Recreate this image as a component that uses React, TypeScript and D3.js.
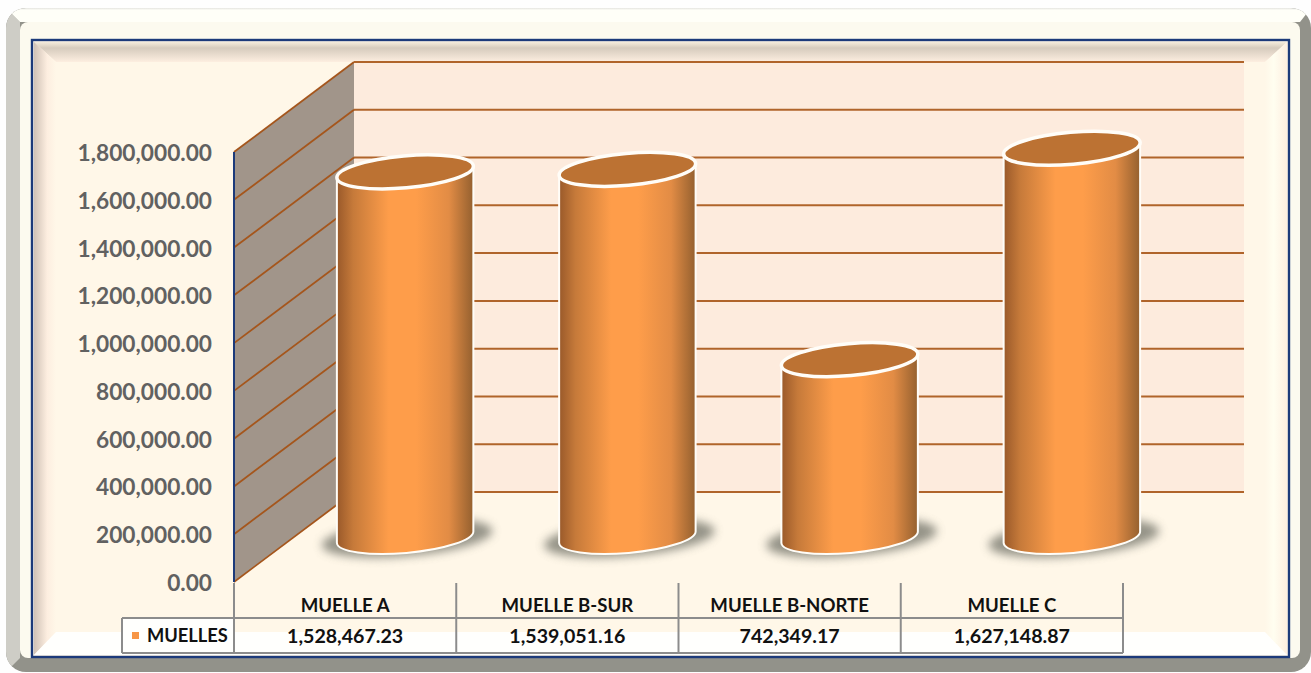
import React from "react";
import * as d3 from "d3";

const categories = ["MUELLE A", "MUELLE B-SUR", "MUELLE B-NORTE", "MUELLE C"];
const values = [1528467.23, 1539051.16, 742349.17, 1627148.87];
const tickValues = [0, 200000, 400000, 600000, 800000, 1000000, 1200000, 1400000, 1600000, 1800000];
const seriesName = "MUELLES";

const width = 1311;
const height = 673;
const plot = { left: 234, right: 1123, top: 152, bottom: 582 };
const depth = { x: 120, y: -90 };
const backRight = 1244;
const tilt = 5;
const rx = 68.5;
const ry = 16;
const font = "Lato, 'Noto Sans', sans-serif";

const fmt = d3.format(",.2f");

const App = () => {
  const y = d3.scaleLinear().domain([0, 1800000]).range([plot.bottom, plot.top]);
  const x = d3.scaleBand().domain(categories).range([plot.left, plot.right]);

  const dx = rx * Math.cos((tilt * Math.PI) / 180);
  const dy = rx * Math.sin((tilt * Math.PI) / 180);
  const tableLines = [plot.left, ...categories.map((c) => (x(c) as number) + x.bandwidth())];

  return (
    <svg
      width={width}
      height={height}
      style={{ position: "absolute", left: 0, top: 0, display: "block" }}
    >
      <defs>
        <linearGradient id="body" x1="0" x2="1" y1="0" y2="0">
          <stop offset="0" stopColor="#99592a" />
          <stop offset="0.12" stopColor="#c67a3a" />
          <stop offset="0.38" stopColor="#fe9d4a" />
          <stop offset="0.58" stopColor="#fe9d4a" />
          <stop offset="0.82" stopColor="#e28c45" />
          <stop offset="1" stopColor="#94602f" />
        </linearGradient>
        <linearGradient id="bevelLeft" x1="0" x2="1" y1="0" y2="0">
          <stop offset="0" stopColor="#d0c2b6" />
          <stop offset="0.6" stopColor="#fdeee0" />
          <stop offset="1" stopColor="#fff7e8" />
        </linearGradient>
        <linearGradient id="bevelTop" x1="0" x2="0" y1="0" y2="1">
          <stop offset="0" stopColor="#f5ecdc" />
          <stop offset="0.3" stopColor="#d6cbbd" />
          <stop offset="1" stopColor="#fdeee0" />
        </linearGradient>
        <linearGradient id="bevelRight" x1="0" x2="1" y1="0" y2="0">
          <stop offset="0" stopColor="#fff7e8" />
          <stop offset="0.4" stopColor="#fffef0" />
          <stop offset="1" stopColor="#fdeee0" />
        </linearGradient>
        <linearGradient id="frameTop" x1="0" x2="0" y1="0" y2="1">
          <stop offset="0" stopColor="#e4e4e0" />
          <stop offset="0.15" stopColor="#fffff8" />
          <stop offset="1" stopColor="#fffff8" />
        </linearGradient>
        <filter id="shadow" x="-30%" y="-60%" width="160%" height="220%">
          <feGaussianBlur stdDeviation="5" />
        </filter>
        <clipPath id="outerClip">
          <rect x={6} y={8} width={1305} height={664} rx={20} />
        </clipPath>
      </defs>

      {/* outer frame */}
      <rect x={0} y={0} width={width} height={height} fill="#fefefe" />
      <g clipPath="url(#outerClip)">
        <rect x={6} y={8} width={1305} height={664} fill="#92928a" />
        <polygon points="6,8 20,22 20,658 6,672" fill="#cecdc6" />
        <polygon points="6,8 1311,8 1300,22 20,22" fill="url(#frameTop)" />
      </g>
      <rect x={20} y={22} width={1280} height={636} rx={8} fill="#fcfaef" />

      {/* inner panel with bevel */}
      <rect x={32} y={40} width={1257} height={617} fill="#fff7e8" stroke="#1c3a7a" strokeWidth={2.4} />
      <polygon points="34,42 1287,42 1265,62 56,62" fill="url(#bevelTop)" />
      <polygon points="34,42 56,62 56,632 34,655" fill="url(#bevelLeft)" />
      <polygon points="1287,42 1265,62 1265,632 1287,655" fill="url(#bevelRight)" />
      <polygon points="34,655 56,632 1265,632 1287,655" fill="#fffffd" />

      {/* back wall */}
      <rect
        x={plot.left + depth.x}
        y={plot.top + depth.y}
        width={backRight - plot.left - depth.x}
        height={plot.bottom - plot.top}
        fill="#fdebdd"
      />
      {/* side wall */}
      <polygon
        points={[
          [plot.left, y(0)],
          [plot.left, y(1800000)],
          [plot.left + depth.x, y(1800000) + depth.y],
          [plot.left + depth.x, y(0) + depth.y],
        ].join(" ")}
        fill="#a1958a"
      />
      {tickValues.map((t) => (
        <g key={t}>
          <line
            x1={plot.left}
            x2={plot.left + depth.x}
            y1={y(t)}
            y2={y(t) + depth.y}
            stroke="#a5561c"
            strokeWidth={1.8}
          />
          <line
            x1={plot.left + depth.x}
            x2={backRight}
            y1={y(t) + depth.y}
            y2={y(t) + depth.y}
            stroke="#b0642a"
            strokeWidth={2}
          />
          <text
            x={212}
            y={y(t) + 9}
            textAnchor="end"
            fontFamily={font}
            fontWeight={700}
            fontSize={22.7}
            fill="#616161"
          >
            {fmt(t)}
          </text>
        </g>
      ))}
      <line x1={plot.left} x2={plot.left} y1={y(1800000)} y2={y(0)} stroke="#1c3a7a" strokeWidth={2} />

      {/* cylinders */}
      {categories.map((c, i) => {
        const cx = (x(c) as number) + x.bandwidth() / 2 + depth.x / 2;
        const yBase = y(0) + depth.y / 2;
        const yTop = y(values[i]) + depth.y / 2;
        const body = [
          `M${cx - dx},${yTop + dy}`,
          `L${cx - dx},${yBase + dy}`,
          `A${rx},${ry} ${-tilt} 0 0 ${cx + dx},${yBase - dy}`,
          `L${cx + dx},${yTop - dy}`,
          "Z",
        ].join(" ");
        return (
          <g key={c}>
            <ellipse
              cx={cx + 2}
              cy={yBase + 1}
              rx={rx + 17}
              ry={ry + 2}
              transform={`rotate(${-tilt} ${cx + 2} ${yBase + 1})`}
              fill="#7a7a70"
              opacity={0.8}
              filter="url(#shadow)"
            />
            <path d={body} fill="url(#body)" stroke="#fffdf8" strokeWidth={2} />
            <ellipse
              cx={cx}
              cy={yTop}
              rx={rx}
              ry={ry}
              transform={`rotate(${-tilt} ${cx} ${yTop})`}
              fill="#bc7233"
              stroke="#fffdf8"
              strokeWidth={3.5}
            />
          </g>
        );
      })}

      {/* data table */}
      <rect x={122} y={618} width={112} height={35} fill="#fffffd" />
      {tableLines.map((tx) => (
        <line key={tx} x1={tx} x2={tx} y1={583} y2={653} stroke="#8c8c8c" strokeWidth={2} />
      ))}
      <line x1={122} x2={122} y1={618} y2={653} stroke="#8c8c8c" strokeWidth={2} />
      <line x1={122} x2={plot.right} y1={618} y2={618} stroke="#8c8c8c" strokeWidth={2} />
      <line x1={122} x2={plot.right} y1={653} y2={653} stroke="#8c8c8c" strokeWidth={2} />
      <rect x={132} y={632} width={7} height={7} fill="#f79646" />
      <text x={147} y={642} fontFamily={font} fontWeight={700} fontSize={18.3} fill="#111">
        {seriesName}
      </text>
      {categories.map((c, i) => {
        const tx = (x(c) as number) + x.bandwidth() / 2;
        return (
          <g key={c} fontFamily={font} fontWeight={700} fill="#111" textAnchor="middle">
            <text x={tx} y={612} fontSize={18.6}>
              {c}
            </text>
            <text x={tx} y={643} fontSize={19.6}>
              {fmt(values[i])}
            </text>
          </g>
        );
      })}
    </svg>
  );
};

export default App;
